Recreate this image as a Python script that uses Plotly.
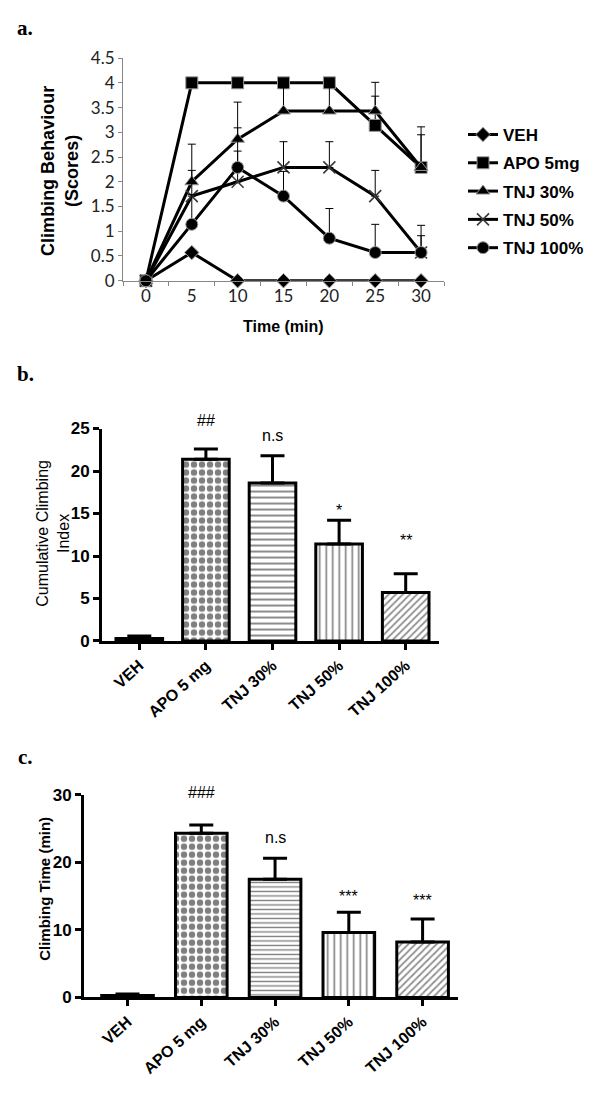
import plotly.graph_objects as go

# ---------------- Panel a data ----------------
time = [0, 5, 10, 15, 20, 25, 30]
line_names = ["VEH", "APO 5mg", "TNJ 30%", "TNJ 50%", "TNJ 100%"]
veh = [0, 0.57, 0, 0, 0, 0, 0]
veh_err = [0, 0, 0, 0, 0, 0, 0]
apo = [0, 4, 4, 4, 4, 3.14, 2.29]
apo_err = [0, 0, 0, 0, 0, 0.59, 0.66]
tnj30 = [0, 2.0, 2.86, 3.43, 3.43, 3.43, 2.29]
tnj30_err = [0, 0.76, 0.75, 0.47, 0.57, 0.58, 0.82]
tnj50 = [0, 1.71, 2.0, 2.29, 2.29, 1.71, 0.57]
tnj50_err = [0, 0.52, 0.62, 0.52, 0.52, 0.52, 0.55]
tnj100 = [0, 1.14, 2.29, 1.71, 0.86, 0.57, 0.57]
tnj100_err = [0, 0.6, 0.8, 0.5, 0.6, 0.57, 0.34]

# ---------------- Panel b / c data ----------------
groups = ["VEH", "APO 5 mg", "TNJ 30%", "TNJ 50%", "TNJ 100%"]
cci = [0.3, 21.4, 18.6, 11.4, 5.7]
cci_err = [0.3, 1.2, 3.2, 2.8, 2.2]
cci_sig = ["", "##", "n.s", "*", "**"]
cci_sig_y = [None, 25.9, 24.2, 15.3, 11.8]
ctime = [0.3, 24.3, 17.5, 9.6, 8.2]
ctime_err = [0.2, 1.2, 3.1, 3.0, 3.4]
ctime_sig = ["", "###", "n.s", "***", "***"]
ctime_sig_y = [None, 30.3, 23.6, 15.0, 14.3]

W, H = 600, 1096
def px(x):
    return x / W
def py(y):
    return 1 - y / H

SANS = "Liberation Sans, Arial, sans-serif"
SERIF = "Liberation Serif, Times New Roman, serif"
GREY = "#868686"

# axis geometry (domains and ranges)
xa_dom = [px(123), px(444)]
ya_dom = [py(275), py(48)]
xb_dom, xb_rng = [px(102), px(439)], [-0.56, 4.5]
yb_dom, yb_rng = [py(642.3), py(425.7)], [0, 25]
xc_dom, xc_rng = [px(84), px(458)], [-0.59, 4.48]
yc_dom, yc_rng = [py(1005.7), py(799)], [0, 30]

def to_paper(v, dom, rng):
    return dom[0] + (v - rng[0]) / (rng[1] - rng[0]) * (dom[1] - dom[0])

fig = go.Figure()

# ---------------- Panel a ----------------
line_series = [
    (veh, veh_err, "diamond", 11),
    (apo, apo_err, "square", 12),
    (tnj30, tnj30_err, "triangle-up", 12),
    (tnj50, tnj50_err, "x-thin", 12),
    (tnj100, tnj100_err, "circle", 12),
]
for name, (vals, errs, sym, sz) in zip(line_names, line_series):
    if sym == "x-thin":
        mline = dict(color="#3a3a3a", width=1.6)
    else:
        mline = dict(color="#999999", width=1)
    fig.add_trace(go.Scatter(
        x=time, y=vals, name=name, mode="lines+markers",
        line=dict(color="black", width=3),
        marker=dict(symbol=sym, size=sz, color="black", line=mline),
        error_y=dict(type="data", array=errs, arrayminus=[0] * len(errs),
                     symmetric=False, color="black", thickness=1, width=4),
        cliponaxis=False, legendgroup=name, xaxis="x", yaxis="y",
    ))

minor_ticks = [t - 2.5 for t in time] + [time[-1] + 2.5]

# ---------------- Panel b / c bars ----------------
def bar_patterns(hsize):
    return [
        dict(shape=""),
        dict(shape=".", size=8, solidity=0.5, fgcolor="black", bgcolor="white"),
        dict(shape="-", size=hsize, solidity=0.3, fgcolor="black", bgcolor="white"),
        dict(shape="|", size=6.5, solidity=0.25, fgcolor="black", bgcolor="white"),
        dict(shape="/", size=5, solidity=0.35, fgcolor="#222222", bgcolor="white"),
    ]

for vals, errs, xa, ya, hsize in [(cci, cci_err, "x2", "y2", 6), (ctime, ctime_err, "x3", "y3", 4.5)]:
    pats = bar_patterns(hsize)
    for i, g in enumerate(groups):
        fill = "black" if i == 0 else "white"
        fig.add_trace(go.Bar(
            x=[g], y=[vals[i]], width=0.7, showlegend=False,
            marker=dict(color=fill, line=dict(color="black", width=3), pattern=pats[i]),
            error_y=dict(type="data", array=[errs[i]], arrayminus=[0], symmetric=False,
                         color="black", thickness=3, width=12),
            xaxis=xa, yaxis=ya,
        ))

annotations = []
# significance labels (positions converted from data units to paper)
for i, (s, y) in enumerate(zip(cci_sig, cci_sig_y)):
    if s:
        annotations.append(dict(x=to_paper(i, xb_dom, xb_rng), y=to_paper(y, yb_dom, yb_rng),
                                xref="paper", yref="paper", xanchor="center", yanchor="middle",
                                text=s, showarrow=False,
                                font=dict(family=SANS, size=16, color="black")))
for i, (s, y) in enumerate(zip(ctime_sig, ctime_sig_y)):
    if s:
        annotations.append(dict(x=to_paper(i, xc_dom, xc_rng), y=to_paper(y, yc_dom, yc_rng),
                                xref="paper", yref="paper", xanchor="center", yanchor="middle",
                                text=s, showarrow=False,
                                font=dict(family=SANS, size=16, color="black")))

# panel labels
for lab, xx, yy in [("a.", 25, 17), ("b.", 25, 370), ("c.", 25, 761)]:
    annotations.append(dict(x=px(xx), y=py(yy), xref="paper", yref="paper", text=lab,
                            xanchor="center", yanchor="middle", showarrow=False,
                            font=dict(family=SERIF, size=21, color="black", weight="bold")))

# axis titles
def title_ann(text, x, y, size, bold, angle=-90):
    f = dict(family=SANS, size=size, color="black")
    if bold:
        f["weight"] = "bold"
    return dict(x=px(x), y=py(y), xref="paper", yref="paper", text=text, textangle=angle,
                xanchor="center", yanchor="middle", showarrow=False, font=f)

annotations.append(title_ann("Climbing Behaviour<br>(Scores)", 60, 163, 18, True))
annotations.append(title_ann("Time (min)", 283, 322, 16, True, 0))
annotations.append(title_ann("Cumulative Climbing<br>Index", 53, 533, 16, False))
annotations.append(title_ann("Climbing Time (min)", 45, 895, 15, True))

bar_y_common = dict(showline=True, linecolor="black", linewidth=3, ticks="outside",
                    ticklen=6, tickwidth=3, tickcolor="black", showgrid=False, zeroline=False,
                    tickfont=dict(family=SANS, size=17, color="black", weight="bold"))
bar_x_common = dict(type="category", showline=True, linecolor="black", linewidth=3,
                    ticks="outside", ticklen=6, tickwidth=3, tickcolor="black",
                    showgrid=False, zeroline=False, tickangle=-42,
                    tickfont=dict(family=SANS, size=16, color="black", weight="bold"))

fig.update_layout(
    width=W, height=H, margin=dict(l=0, r=0, t=0, b=0),
    paper_bgcolor="white", plot_bgcolor="white",
    showlegend=True,
    legend=dict(x=px(463), y=py(108), xanchor="left", yanchor="top",
                font=dict(family=SANS, size=17, color="black", weight="bold"),
                tracegroupgap=3.2, bgcolor="rgba(0,0,0,0)"),
    xaxis=dict(domain=xa_dom, range=[-2.5, 32.5], anchor="y",
               tickvals=time, ticks="", showline=True, linecolor=GREY, linewidth=1,
               showgrid=False, zeroline=False,
               minor=dict(tickvals=minor_ticks, ticks="outside", ticklen=4, tickcolor=GREY),
               tickfont=dict(family="Lato, Open Sans, sans-serif", size=17, color="#222222")),
    yaxis=dict(domain=ya_dom, range=[0, 4.5], anchor="x", dtick=0.5,
               ticks="outside", ticklen=4, tickcolor=GREY, showline=True, linecolor=GREY,
               linewidth=1, showgrid=False, zeroline=False,
               tickfont=dict(family="Lato, Open Sans, sans-serif", size=17, color="#222222")),
    xaxis2=dict(domain=xb_dom, range=xb_rng, anchor="y2", **bar_x_common),
    yaxis2=dict(domain=yb_dom, range=yb_rng, dtick=5, anchor="x2", **bar_y_common),
    xaxis3=dict(domain=xc_dom, range=xc_rng, anchor="y3", **bar_x_common),
    yaxis3=dict(domain=yc_dom, range=yc_rng, dtick=10, anchor="x3", **bar_y_common),
    annotations=annotations,
    bargap=0.3,
)

fig.write_html("out.html", config={"displayModeBar": False},
               post_script="document.body.style.margin='0px';document.body.style.overflow='hidden';")
